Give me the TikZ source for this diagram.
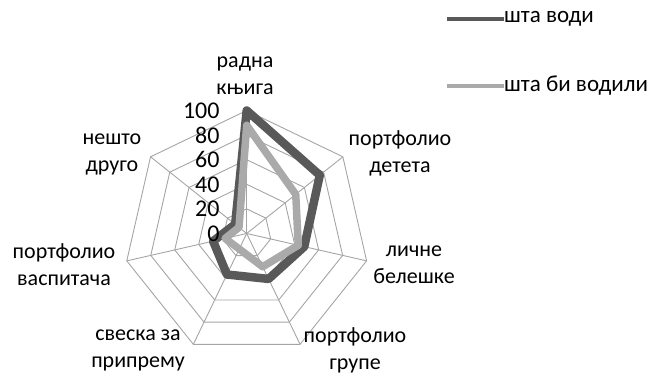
\documentclass[tikz,border=0pt]{standalone}
\usepackage{fontspec}
\setmainfont{Carlito}
\usetikzlibrary{positioning}
\definecolor{gridgray}{RGB}{165,165,165}
\definecolor{vodi}{RGB}{89,89,89}
\definecolor{bivodili}{RGB}{170,170,170}
\tikzset{
  axislabel/.style={align=center,inner sep=0pt,font=\fontsize{22}{27}\selectfont},
  ticklabel/.style={anchor=east,inner sep=0pt,font=\fontsize{24}{24}\selectfont},
  legendlabel/.style={anchor=west,inner sep=0pt,font=\fontsize{23}{23}\selectfont},
  gridline/.style={draw=gridgray,line width=0.9pt},
  serie/.style={line width=#1,line join=round,line cap=round}
}
\begin{document}
\begin{tikzpicture}[x=1pt,y=1pt]
\useasboundingbox (0,0) rectangle (664,375);
\begin{scope}[shift={(246.7,141.5)}]
  \foreach \r in {1,...,5}
    \draw[gridline] (90:24.6*\r) \foreach \k in {1,...,6}{ -- ({90-\k*360/7}:24.6*\r)} -- cycle;
  \coordinate (c) at (0,0);
  \foreach \k in {0,...,6}
    \coordinate (a\k) at ({90-\k*360/7}:123);
  \foreach \k in {0,...,6}
    \draw[gridline] (c) -- (a\k);
  \foreach \v [count=\k from 0] in {100,76,48,41,37,28,12}
    \coordinate (d\k) at ({90-\k*360/7}:1.23*\v);
  \foreach \v [count=\k from 0] in {88,51,43,30,14,18,8}
    \coordinate (l\k) at ({90-\k*360/7}:1.23*\v);
  \draw[serie=8.5pt,vodi] (d0) -- (d1) -- (d2) -- (d3) -- (d4) -- (d5) -- (d6) -- cycle;
  \draw[serie=7.5pt,bivodili] (l0) -- (l1) -- (l2) -- (l3) -- (l4) -- (l5) -- (l6) -- cycle;
  \foreach \t [count=\k from 0] in {0,20,40,60,80,100}
    \node[ticklabel] (t\t) at (-27,24.6*\k) {\t};
\end{scope}
\node[axislabel] (radna) at (245,299.5) {радна\\књига};
\node[axislabel] (pdeteta) at (400,221.5) {портфолио\\детета};
\node[axislabel] (licne) at (414,110) {личне\\белешке};
\node[axislabel] (pgrupe) at (355,25) {портфолио\\групе};
\node[axislabel] (sveska) at (138,25) {свеска за\\припрему};
\node[axislabel] (pvasp) at (64,110) {портфолио\\васпитача};
\node[axislabel] (nesto) at (112,221) {нешто\\друго};
\coordinate (v1) at (446.7,355.7);
\node[legendlabel] (vodilab) at (504,355.7) {шта води};
\draw[vodi,line width=4pt] (v1) -- (vodilab.west);
\coordinate (b1) at (446.7,289);
\node[legendlabel] (bilab) at (504,289) {шта би водили};
\draw[bivodili,line width=4pt] (b1) -- (bilab.west);
\end{tikzpicture}
\end{document}
